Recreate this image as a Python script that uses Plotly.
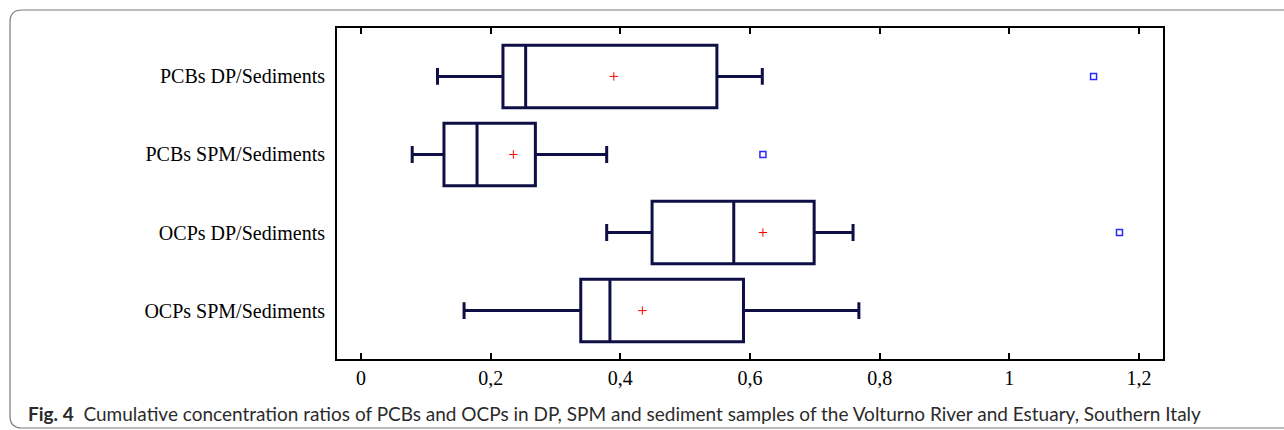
import plotly.graph_objects as go

W, H = 1284, 430
ML, MR, MT, MB = 337, 121, 28, 71
PW, PH = W - ML - MR, H - MT - MB

categories = ["PCBs DP/Sediments", "PCBs SPM/Sediments", "OCPs DP/Sediments", "OCPs SPM/Sediments"]
lower = [0.118, 0.079, 0.379, 0.159]
q1 = [0.219, 0.128, 0.449, 0.339]
median = [0.254, 0.179, 0.575, 0.384]
q3 = [0.549, 0.269, 0.699, 0.590]
upper = [0.619, 0.379, 0.759, 0.768]
means = [0.390, 0.235, 0.620, 0.434]
outlier_cats = ["PCBs DP/Sediments", "PCBs SPM/Sediments", "OCPs DP/Sediments"]
outlier_vals = [1.130, 0.620, 1.170]

tick_vals = [0, 0.2, 0.4, 0.6, 0.8, 1.0, 1.2]
tick_text = ["0", "0,2", "0,4", "0,6", "0,8", "1", "1,2"]

NAVY = "#0f0f46"

fig = go.Figure()
fig.add_trace(go.Box(
    y=categories, q1=q1, median=median, q3=q3,
    lowerfence=lower, upperfence=upper,
    orientation="h", boxpoints=False, width=0.8,
    line=dict(color=NAVY, width=3), fillcolor="white",
    whiskerwidth=0.27, showlegend=False, hoverinfo="skip",
))
fig.add_trace(go.Scatter(
    x=means, y=categories, mode="markers",
    marker=dict(symbol="cross-thin", size=6, line=dict(color="#ff0000", width=1)),
    showlegend=False, hoverinfo="skip",
))
fig.add_trace(go.Scatter(
    x=outlier_vals, y=outlier_cats, mode="markers",
    marker=dict(symbol="square-open", size=6, color="#2a2aff", line=dict(width=1.5)),
    showlegend=False, hoverinfo="skip",
))


def px(xp):
    return (xp - ML) / PW


def py(yp):
    return (MT + PH - yp) / PH


r = 12
x0, y0, x1, y1 = 10, 10, 1320, 428
path = (f"M {px(x1)},{py(y0)} L {px(x0 + r)},{py(y0)} "
        f"Q {px(x0)},{py(y0)} {px(x0)},{py(y0 + r)} "
        f"L {px(x0)},{py(y1 - r)} Q {px(x0)},{py(y1)} {px(x0 + r)},{py(y1)} "
        f"L {px(x1)},{py(y1)}")

fig.update_layout(
    width=W, height=H,
    margin=dict(l=ML, r=MR, t=MT, b=MB),
    paper_bgcolor="white", plot_bgcolor="white",
    font=dict(family="Liberation Serif", size=20, color="black"),
    xaxis=dict(
        range=[-0.037, 1.2371], tickvals=tick_vals, ticktext=tick_text,
        ticks="inside", ticklen=6, tickwidth=1.5, tickcolor="black",
        showline=True, linecolor="black", linewidth=2, mirror="ticks",
        showgrid=False, zeroline=False,
    ),
    yaxis=dict(
        type="category", categoryorder="array", categoryarray=categories,
        range=[3.62, -0.62], ticks="", showline=True, linecolor="black",
        linewidth=2, mirror=True, showgrid=False, zeroline=False,
        ticklabelstandoff=6,
    ),
    shapes=[dict(type="path", path=path, xref="paper", yref="paper",
                 line=dict(color="#7a7a7a", width=1.2), layer="below")],
    annotations=[dict(
        text="<b>Fig. 4</b>&nbsp;&nbsp;Cumulative concentration ratios of PCBs and OCPs in DP, SPM and sediment samples of the Volturno River and Estuary, Southern Italy",
        xref="paper", yref="paper", x=px(26), y=py(413), xanchor="left", yanchor="middle",
        showarrow=False, font=dict(family="Lato", size=19, color="#2b2b2b"),
    )],
)

fig.write_html("out.html")
